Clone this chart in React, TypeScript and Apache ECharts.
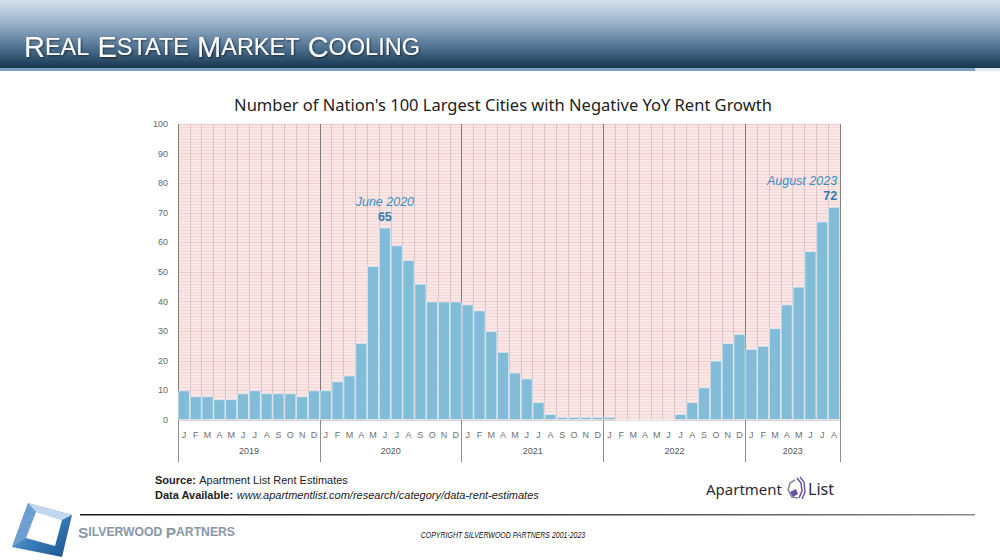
import React, { useEffect, useRef } from "react";
import * as echarts from "echarts";

// ---- data ----
const yearLabels = ["2019", "2020", "2021", "2022", "2023"];
const monthNames = ["Jan", "Feb", "Mar", "Apr", "May", "Jun", "Jul", "Aug", "Sep", "Oct", "Nov", "Dec"];
const monthsPerYear = [12, 12, 12, 12, 8];
const cities2019 = [10, 8, 8, 7, 7, 9, 10, 9, 9, 9, 8, 10];
const cities2020 = [10, 13, 15, 26, 52, 65, 59, 54, 46, 40, 40, 40];
const cities2021 = [39, 37, 30, 23, 16, 14, 6, 2, 1, 1, 1, 1];
const cities2022 = [1, 0, 0, 0, 0, 0, 2, 6, 11, 20, 26, 29];
const cities2023 = [24, 25, 31, 39, 45, 57, 67, 72];
const yTicks = { min: 0, max: 100, interval: 10 };
const annotations = [
  { category: "Jun 2020", title: "June 2020" },
  { category: "Aug 2023", title: "August 2023" },
];

const chartTitle = "Number of Nation's 100 Largest Cities with Negative YoY Rent Growth";
const pageTitle = ["R", "EAL", "E", "STATE", "M", "ARKET", "C", "OOLING"];

export default function App() {
  const ref = useRef<HTMLDivElement>(null);
  useEffect(() => {
    if (!ref.current) return;
    const chart = echarts.init(ref.current, null, { renderer: "svg" });

    const categories: string[] = [];
    yearLabels.forEach((y, yi) => {
      for (let m = 0; m < monthsPerYear[yi]; m++) categories.push(`${monthNames[m]} ${y}`);
    });
    const values = [...cities2019, ...cities2020, ...cities2021, ...cities2022, ...cities2023];
    const total = categories.length;

    const yearBounds: number[] = [0];
    const yearCenters: number[] = [];
    monthsPerYear.forEach((n) => {
      const start = yearBounds[yearBounds.length - 1];
      yearCenters.push(start + n / 2);
      yearBounds.push(start + n);
    });

    const barData = values.map((v, i) => {
      const ann = annotations.find((a) => a.category === categories[i]);
      if (!ann) return v;
      const isLast = i === total - 1;
      return {
        value: v,
        label: {
          show: true,
          position: "top",
          distance: 3,
          align: isLast ? "right" : "center",
          offset: isLast ? [3, 0] : [0, 0],
          formatter: `{a|${ann.title}}\n{b|${v}}`,
          rich: {
            a: { fontFamily: "Liberation Sans", fontStyle: "italic", fontSize: 12.5, color: "#3c8ec0", lineHeight: 16, align: isLast ? "right" : "center" },
            b: { fontFamily: "Liberation Sans", fontWeight: "bold", fontSize: 12.5, color: "#2b7fb0", lineHeight: 15, align: isLast ? "right" : "center" },
          },
        },
      };
    });

    const shadow = { textShadowColor: "rgba(0,0,0,0.6)", textShadowBlur: 2, textShadowOffsetX: 1, textShadowOffsetY: 1 };
    const titleRich: any = {
      B: { fontFamily: "Liberation Sans", fontSize: 29, fill: "#ffffff", ...shadow },
      S: { fontFamily: "Liberation Sans", fontSize: 23.5, fill: "#ffffff", ...shadow },
    };
    let titleText = "";
    pageTitle.forEach((p, i) => {
      titleText += `{${i % 2 === 0 ? "B" : "S"}|${p}}`;
      if (i % 2 === 1 && i < pageTitle.length - 1) titleText += "{B| }";
    });

    chart.setOption({
      animation: false,
      backgroundColor: "#ffffff",
      title: {
        text: chartTitle,
        left: 498,
        top: 91,
        textAlign: "center",
        textStyle: { fontFamily: "Noto Sans", fontSize: 16.5, fontWeight: "normal", color: "#222222" },
      },
      grid: {
        left: 178,
        right: 160,
        top: 124,
        bottom: 140,
        show: true,
        backgroundColor: "#fbe6e6",
        borderWidth: 0,
      },
      xAxis: [
        {
          type: "category",
          data: categories,
          position: "bottom",
          axisLine: { show: false },
          axisTick: { show: false },
          axisLabel: {
            interval: 0,
            margin: 10,
            fontFamily: "Liberation Sans",
            fontSize: 9,
            color: "#6f6f6f",
            formatter: (v: string) => v.charAt(0),
          },
          splitLine: { show: true, interval: 0, lineStyle: { color: "rgba(140,140,140,0.32)", width: 1 } },
        },
        {
          type: "value",
          min: 0,
          max: total,
          interval: 12,
          position: "bottom",
          axisLine: { show: false },
          axisTick: { show: true, length: 42, lineStyle: { color: "#8c8c8c", width: 1 } },
          axisLabel: {
            customValues: yearCenters,
            margin: 26,
            fontFamily: "Liberation Sans",
            fontSize: 9,
            color: "#555555",
            formatter: (v: number) => {
              const idx = yearCenters.indexOf(v);
              return idx >= 0 ? yearLabels[idx] : "";
            },
          },
          splitLine: { show: true, lineStyle: { color: "#7c7c7c", width: 1 } },
        },
      ],
      yAxis: {
        type: "value",
        min: yTicks.min,
        max: yTicks.max,
        interval: yTicks.interval,
        axisLine: { show: false },
        axisTick: { show: false },
        axisLabel: { margin: 10, fontFamily: "Liberation Sans", fontSize: 9, color: "#666666" },
        splitLine: { show: true, lineStyle: { color: "#f2cccc", width: 1 } },
        minorTick: { show: false, splitNumber: 10 },
        minorSplitLine: { show: true, lineStyle: { color: "#f4d6d6", width: 0.8 } },
      },
      series: [
        {
          type: "bar",
          xAxisIndex: 0,
          yAxisIndex: 0,
          data: barData,
          barCategoryGap: "0%",
          itemStyle: { color: "#81bcd8", borderColor: "rgba(235,245,250,0.75)", borderWidth: 0.8 },
          z: 3,
        },
      ],
      graphic: [
        // header banner
        {
          type: "rect",
          shape: { x: 0, y: 0, width: 1000, height: 68 },
          style: {
            fill: new echarts.graphic.LinearGradient(0, 0, 0, 1, [
              { offset: 0, color: "#d6e1ed" },
              { offset: 0.35, color: "#98b0c9" },
              { offset: 0.7, color: "#4f7292" },
              { offset: 1, color: "#16364f" },
            ]),
          },
          z: 0,
        },
        { type: "rect", shape: { x: 0, y: 68, width: 975, height: 3 }, style: { fill: "#7ea0c2" } },
        { type: "rect", shape: { x: 975, y: 68, width: 25, height: 3 }, style: { fill: "#dde6ef" } },
        {
          type: "text",
          x: 24,
          y: 61,
          style: { text: titleText, rich: titleRich, verticalAlign: "bottom" },
        },
        // source notes
        {
          type: "text",
          x: 155,
          y: 480,
          style: {
            text: "{b|Source:} {n|Apartment List Rent Estimates}",
            verticalAlign: "middle",
            rich: {
              b: { fontFamily: "Liberation Sans", fontWeight: "bold", fontSize: 11, fill: "#222" },
              n: { fontFamily: "Liberation Sans", fontSize: 11, fill: "#222" },
            },
          },
        },
        {
          type: "text",
          x: 155,
          y: 495,
          style: {
            text: "{b|Data Available:} {n|www.apartmentlist.com/research/category/data-rent-estimates}",
            verticalAlign: "middle",
            rich: {
              b: { fontFamily: "Liberation Sans", fontWeight: "bold", fontSize: 11, fill: "#222" },
              n: { fontFamily: "Liberation Sans", fontStyle: "italic", fontSize: 11, fill: "#222" },
            },
          },
        },
        // Apartment List logo
        {
          type: "text",
          x: 782,
          y: 489,
          style: { text: "Apartment", align: "right", verticalAlign: "middle", fontFamily: "Noto Sans", fontSize: 15, fill: "#2b2b38" },
        },
        {
          type: "text",
          x: 808,
          y: 489,
          style: { text: "List", align: "left", verticalAlign: "middle", fontFamily: "Noto Sans", fontSize: 16, fill: "#2b2b38" },
        },
        {
          type: "polyline",
          shape: { points: [[795, 480], [790, 483], [788, 490], [792, 497], [798, 498]] },
          style: { stroke: "#8a8a96", lineWidth: 1.6, fill: null },
        },
        {
          type: "polyline",
          shape: { points: [[797, 478], [801, 483], [802, 491], [799, 498]] },
          style: { stroke: "#6a4ea6", lineWidth: 1.5, fill: null },
        },
        {
          type: "polyline",
          shape: { points: [[800, 477], [804, 482], [805, 492], [802, 499]] },
          style: { stroke: "#6a4ea6", lineWidth: 1.4, fill: null },
        },
        {
          type: "polygon",
          shape: { points: [[790, 492], [796, 489], [798, 494], [793, 497]] },
          style: { fill: "#6a4ea6" },
        },
        // footer line
        {
          type: "rect",
          shape: { x: 80, y: 514, width: 895, height: 1.5 },
          style: {
            fill: new echarts.graphic.LinearGradient(0, 0, 1, 0, [
              { offset: 0, color: "#1a1a1a" },
              { offset: 0.5, color: "#3a3a3a" },
              { offset: 1, color: "#8a8a8a" },
            ]),
          },
        },
        // Silverwood logo
        {
          type: "polygon",
          shape: { points: [[28, 503], [72, 515], [62, 557], [12, 547]] },
          style: {
            fill: new echarts.graphic.LinearGradient(0, 0, 1, 1, [
              { offset: 0, color: "#a9c8e6" },
              { offset: 0.5, color: "#3f80bd" },
              { offset: 1, color: "#154f8a" },
            ]),
          },
        },
        {
          type: "polygon",
          shape: { points: [[28, 503], [72, 515], [62, 520], [36, 512]] },
          style: { fill: "#c3d8ee" },
        },
        {
          type: "polygon",
          shape: { points: [[12, 547], [28, 503], [36, 512], [26, 538]] },
          style: { fill: "#6d9fd0" },
        },
        {
          type: "polygon",
          shape: { points: [[36, 512], [62, 520], [55, 546], [26, 538]] },
          style: { fill: "#ffffff" },
        },
        {
          type: "text",
          x: 78,
          y: 532,
          style: {
            text: "{B|S}{s|ILVERWOOD} {B|P}{s|ARTNERS}",
            verticalAlign: "middle",
            rich: {
              B: { fontFamily: "Liberation Sans", fontWeight: "bold", fontSize: 15.5, fill: "#8796a5" },
              s: { fontFamily: "Liberation Sans", fontWeight: "bold", fontSize: 12.2, fill: "#8796a5" },
            },
          },
        },
        {
          type: "text",
          x: 503,
          y: 535,
          scaleX: 0.82,
          style: {
            text: "COPYRIGHT SILVERWOOD PARTNERS 2001-2023",
            align: "center",
            verticalAlign: "middle",
            fontFamily: "Liberation Sans",
            fontStyle: "italic",
            fontSize: 8.5,
            fill: "#111",
          },
        },
      ],
    });
    return () => chart.dispose();
  }, []);
  return <div ref={ref} style={{ position: "fixed", left: 0, top: 0, width: 1000, height: 560 }} />;
}
